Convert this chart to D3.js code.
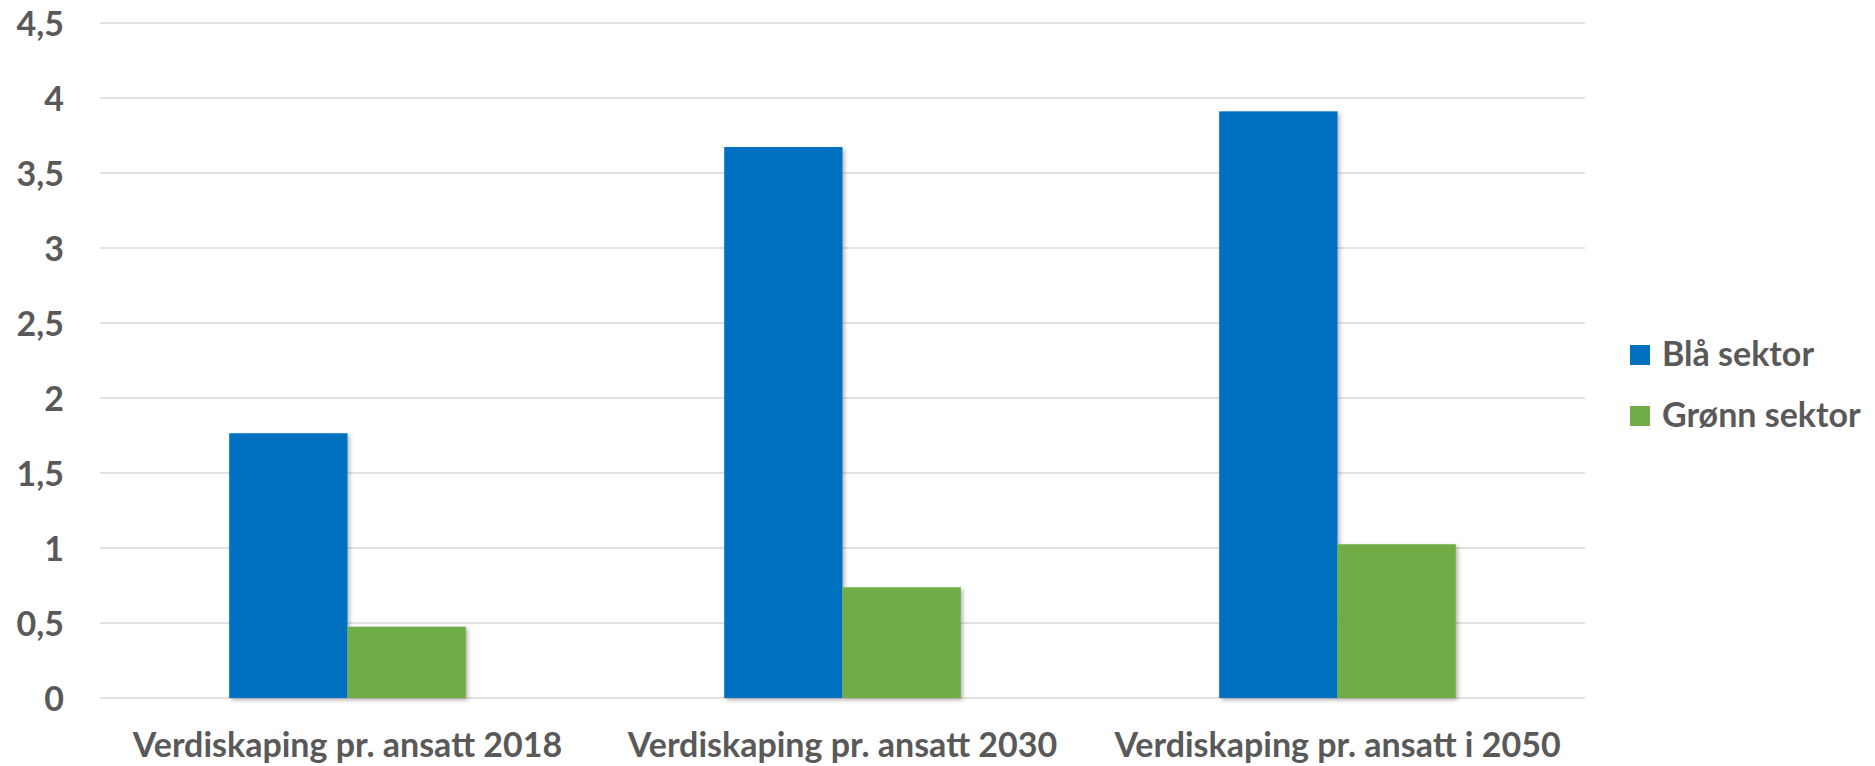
<!DOCTYPE html>
<html>
<head>
<meta charset="utf-8">
<script src="https://cdn.jsdelivr.net/npm/d3@7"></script>
<style>
  body { margin: 0; background: #fff; }
  text { font-family: Lato, "Open Sans", sans-serif; font-weight: bold; fill: #595959; }
</style>
</head>
<body>
<div id="chart"></div>
<script>
var categories = ["Verdiskaping pr. ansatt 2018", "Verdiskaping pr. ansatt 2030", "Verdiskaping pr. ansatt i 2050"];
var seriesNames = ["Blå sektor", "Grønn sektor"];
var blaa   = [1.765, 3.673, 3.911];
var groenn = [0.475, 0.738, 1.025];
var yTicks = [0, 0.5, 1, 1.5, 2, 2.5, 3, 3.5, 4, 4.5];
var colors = ["#0070C0", "#70AD47"];

var W = 1875, H = 766;
var margin = {top: 23, left: 100, right: 290, bottom: 68};
var width  = W - margin.left - margin.right,
    height = H - margin.top - margin.bottom;
var fontSize = 34;

var svg = d3.select("#chart").append("svg")
    .attr("width", W)
    .attr("height", H);

var defs = svg.append("defs");
var shadow = defs.append("filter").attr("id", "shadow")
    .attr("x", "-10%").attr("y", "-10%").attr("width", "130%").attr("height", "130%");
shadow.append("feDropShadow")
    .attr("dx", 2).attr("dy", 2).attr("stdDeviation", 2)
    .attr("flood-color", "#000").attr("flood-opacity", 0.3);

var g = svg.append("g").attr("transform", "translate(" + margin.left + "," + margin.top + ")");

var x0 = d3.scaleBand().domain(categories).range([0, width]).paddingInner(0).paddingOuter(0);
var x1 = d3.scaleBand().domain(seriesNames)
    .range([x0.bandwidth() * 0.261, x0.bandwidth() * 0.739]);
var y = d3.scaleLinear().domain([0, 4.5]).range([height, 0]);

// gridlines
g.selectAll(".grid").data(yTicks).enter()
  .append("line")
    .attr("class", "grid")
    .attr("x1", 0)
    .attr("x2", width)
    .attr("y1", function(d) { return y(d); })
    .attr("y2", function(d) { return y(d); })
    .attr("stroke", "#d9d9d9")
    .attr("stroke-width", 1.5);

// y axis labels
var yAxis = g.append("g")
  .call(d3.axisLeft(y).tickValues(yTicks).tickSize(0).tickPadding(36)
    .tickFormat(function(d) { return String(d).replace(".", ","); }));
yAxis.select(".domain").remove();
yAxis.selectAll("text")
  .attr("font-size", fontSize)
  .attr("font-family", null)
  .attr("dy", "0.36em");

// bars
var rows = categories.map(function(c, i) { return {cat: c, vals: [blaa[i], groenn[i]]}; });

var groups = g.selectAll(".grp").data(rows).enter()
  .append("g")
    .attr("class", "grp")
    .attr("transform", function(d) { return "translate(" + x0(d.cat) + ",0)"; });

groups.selectAll("rect")
  .data(function(d) { return d.vals.map(function(v, j) { return {name: seriesNames[j], value: v, j: j}; }); })
  .enter().append("rect")
    .attr("x", function(d) { return x1(d.name); })
    .attr("y", function(d) { return y(d.value); })
    .attr("width", x1.bandwidth())
    .attr("height", function(d) { return height - y(d.value); })
    .attr("fill", function(d) { return colors[d.j]; })
    .attr("filter", "url(#shadow)");

// x axis labels
var xAxis = g.append("g")
  .attr("transform", "translate(0," + height + ")")
  .call(d3.axisBottom(x0).tickSize(0).tickPadding(0));
xAxis.select(".domain").remove();
xAxis.selectAll("text")
  .attr("font-size", fontSize)
  .attr("font-family", null)
  .attr("y", 59)
  .attr("dy", 0);

// legend
var legend = svg.append("g").attr("transform", "translate(1630,345)");
var li = legend.selectAll(".li").data(seriesNames).enter()
  .append("g")
    .attr("transform", function(d, i) { return "translate(0," + i * 61 + ")"; });
li.append("rect")
    .attr("width", 20).attr("height", 20)
    .attr("fill", function(d, i) { return colors[i]; });
li.append("text")
    .attr("x", 32).attr("y", 21)
    .attr("font-size", fontSize)
    .text(function(d) { return d; });
</script>
</body>
</html>
